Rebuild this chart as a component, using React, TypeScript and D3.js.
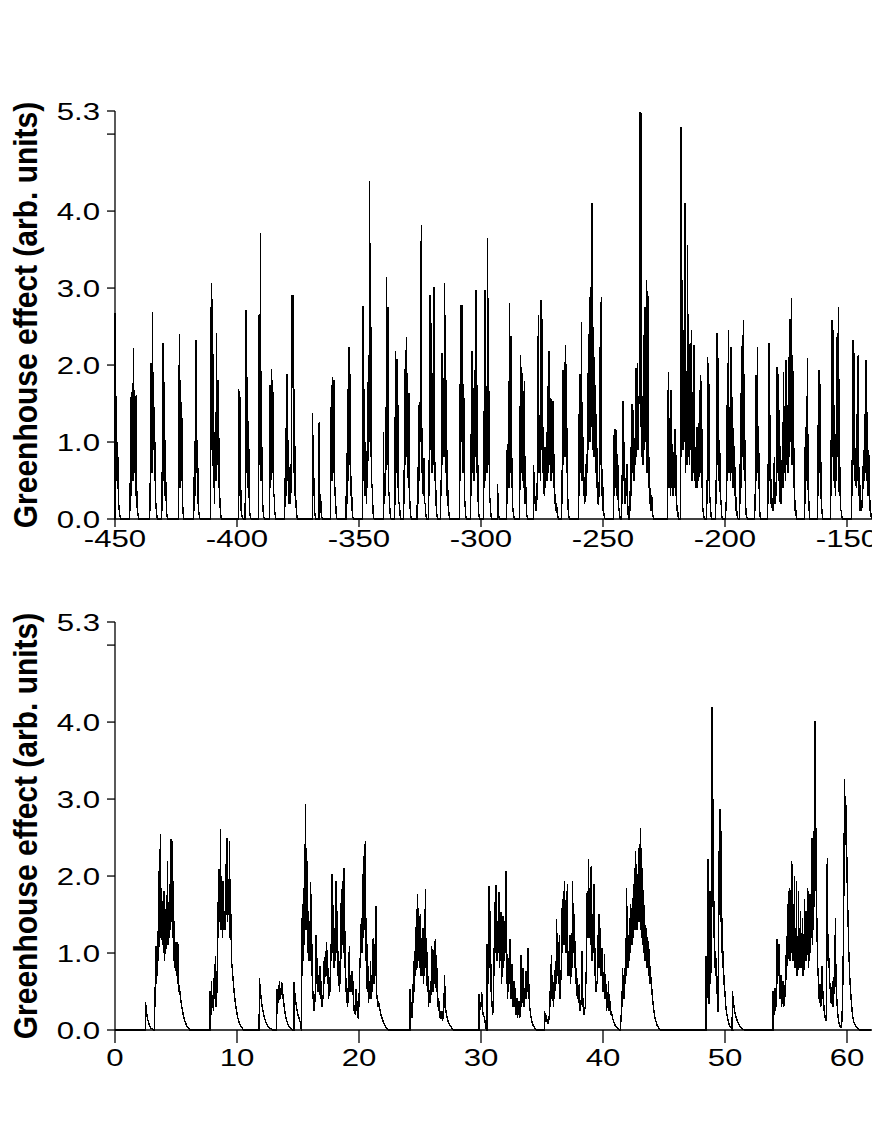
import React from "react";
import * as d3 from "d3";

// ---------- data ----------
// Top panel: bursts sampled at a fixed step; each entry = [start time, values]
const topStep = 0.27;
const topBursts: [number, number[]][] = [
  [-450.0, [2.67, 0.3, 1.6, 0.5, 1.0, 0.3, 0.15, 0.07, 0.03]],
  [-444.0, [0.47, 0.1, 1.58, 0.3, 1.77, 0.5, 2.22, 0.6, 1.52, 0.3, 1.61, 0.2, 0.1, 0.04]],
  [-435.7, [0.47, 0.1, 2.03, 0.6, 2.69, 0.9, 1.45, 0.5, 1.0, 0.2, 0.08, 0.02]],
  [-430.8, [0.61, 0.1, 2.28, 0.5, 1.78, 0.3, 0.48, 0.1, 0.03]],
  [-423.9, [0.3, 2.4, 0.4, 1.8, 0.5, 1.31, 0.2, 0.05]],
  [-417.8, [0.55, 0.1, 1.01, 0.3, 2.33, 0.6, 1.03, 0.2, 0.08, 0.02]],
  [-410.8, [0.5, 3.06, 0.9, 2.86, 0.4, 0.77, 0.2, 1.18, 0.5, 2.41, 0.7, 1.8, 0.4, 1.05, 0.2, 0.08, 0.02]],
  [-399.4, [1.69, 0.3, 1.66, 0.1, 0.38, 0.05, 0.02]],
  [-396.6, [0.5, 2.72, 0.6, 1.84, 0.4, 1.27, 0.2, 0.06, 0.02]],
  [-391.2, [0.5, 2.65, 0.7, 3.71, 0.5, 0.99, 0.3, 0.1, 0.03]],
  [-386.7, [0.3, 1.74, 0.4, 1.95, 0.6, 1.8, 0.3, 0.33, 0.1, 0.03]],
  [-380.5, [0.53, 0.15, 1.18, 0.3, 1.88, 0.5, 1.03, 0.2, 0.53, 0.2, 0.5, 2.91, 1.7, 2.91, 0.6, 1.69, 0.3, 0.25, 0.08, 0.02]],
  [-369.0, [1.38, 0.3, 0.53, 0.1, 0.03]],
  [-366.3, [1.26, 0.2, 0.33, 0.08, 0.02]],
  [-361.6, [0.3, 1.74, 0.5, 1.85, 0.6, 1.8, 0.3, 0.42, 0.1, 0.02]],
  [-355.2, [0.86, 0.2, 1.69, 0.5, 2.23, 0.7, 1.88, 0.3, 0.38, 0.1, 0.02]],
  [-348.6, [0.2, 2.77, 0.5, 1.69, 0.3, 1.0, 0.2, 0.88, 0.4, 2.1, 1.0, 4.39, 0.8, 2.5, 0.4, 0.46, 0.1, 0.02]],
  [-340.0, [1.13, 0.2, 0.6, 0.3, 0.8, 3.15, 0.7, 2.75, 0.3, 0.35, 0.08, 0.02]],
  [-335.3, [0.3, 2.18, 0.6, 2.08, 0.4, 1.48, 0.2, 0.2, 0.05]],
  [-331.7, [0.64, 0.2, 1.95, 0.7, 2.36, 0.8, 1.9, 0.4, 1.64, 0.3, 0.12, 0.03]],
  [-326.1, [0.57, 0.2, 1.48, 0.5, 1.52, 1.0, 3.82, 0.6, 1.03, 0.3, 0.79, 0.2, 0.2, 0.05]],
  [-321.4, [0.77, 0.3, 2.91, 0.9, 2.54, 0.6, 1.9, 0.7, 3.01, 0.5, 0.74, 0.2, 0.07, 0.02]],
  [-316.5, [0.51, 0.3, 2.15, 0.7, 1.83, 0.8, 3.07, 0.6, 1.8, 0.3, 0.9, 0.2, 0.12, 0.02]],
  [-308.7, [1.76, 0.5, 2.78, 1.0, 2.78, 0.6, 1.76, 0.3, 0.2, 0.05]],
  [-304.2, [1.11, 0.3, 2.18, 0.6, 1.7, 0.5, 1.94, 0.8, 2.98, 0.6, 1.74, 0.3, 0.07, 0.02]],
  [-298.9, [1.4, 0.4, 2.98, 0.5, 1.2, 0.6, 3.65, 0.7, 1.66, 0.3, 0.2, 0.05]],
  [-293.2, [0.46, 0.1, 0.03]],
  [-289.4, [0.9, 0.2, 0.98, 0.4, 2.81, 0.6, 2.38, 0.4, 0.79, 0.15, 0.05, 0.02]],
  [-284.1, [0.3, 2.13, 0.6, 1.98, 0.5, 1.66, 0.4, 1.79, 0.2, 0.46, 0.1, 0.03]],
  [-278.4, [0.7, 0.2, 0.3, 0.1, 0.12, 0.3, 0.8, 2.65, 0.6, 1.35, 0.5, 2.85, 0.9, 2.6, 0.6, 1.2, 0.3, 0.94, 0.4, 0.81, 0.5, 1.73, 0.6, 2.18, 0.7, 1.57, 0.5, 1.56, 0.6, 1.53, 0.4, 0.85, 0.2, 0.33, 0.1, 0.16, 0.05, 0.02]],
  [-266.9, [0.64, 0.2, 1.94, 0.7, 2.04, 0.8, 2.26, 0.6, 1.18, 0.3, 0.07, 0.02]],
  [-259.9, [1.37, 0.3, 1.88, 0.6, 2.56, 0.5, 1.09, 0.3, 0.46, 0.2, 0.72, 0.3, 0.85, 0.6, 1.89, 0.9, 2.89, 1.0, 3.02, 1.2, 4.1, 0.9, 2.5, 0.8, 2.11, 0.6, 1.37, 0.4, 0.92, 0.2, 0.18, 0.5, 2.24, 0.7, 2.89, 0.3, 0.61, 0.1, 0.07, 0.02]],
  [-245.6, [1.09, 0.3, 1.17, 0.4, 1.16, 0.3, 0.85, 0.1, 0.14, 0.04]],
  [-242.3, [0.57, 0.2, 1.53, 0.5, 1.0, 0.2, 0.29, 0.4, 0.72, 0.2]],
  [-239.2, [0.18, 0.1, 0.94, 0.3, 1.49, 0.6, 1.41, 0.5, 1.05, 0.7, 1.96, 0.8, 2.02, 0.9, 1.6, 1.5, 5.29, 1.2, 5.27, 0.8, 1.6, 0.7, 2.39, 0.9, 2.75, 1.0, 3.1, 0.6, 2.96, 0.4, 0.81, 0.2, 0.4, 0.1, 0.31, 0.08, 0.03]],
  [-223.5, [0.3, 1.91, 0.4, 1.31, 0.3, 1.68, 0.4, 0.98, 0.3, 0.87, 0.4, 1.17, 0.3, 0.83, 0.1, 0.14, 0.03]],
  [-218.3, [0.2, 5.09, 0.8, 3.1, 0.9, 2.46, 1.0, 4.1, 0.6, 1.0, 0.7, 3.56, 0.8, 1.33, 0.7, 2.28, 0.9, 2.46, 0.5, 0.83, 0.6, 2.26, 0.5, 0.94, 0.4, 1.2, 0.4, 0.92, 0.5, 1.68, 0.6, 1.87, 0.4, 1.17, 0.15, 0.07, 0.02]],
  [-207.6, [0.51, 0.2, 2.11, 0.5, 1.76, 0.3, 0.16, 0.04]],
  [-203.8, [0.51, 0.2, 2.41, 0.7, 2.09, 0.5, 1.03, 0.2, 0.25, 0.05]],
  [-199.7, [0.22, 0.1, 1.48, 0.5, 2.46, 0.6, 1.46, 0.5, 2.24, 0.6, 1.59, 0.4, 1.18, 0.3, 0.68, 0.1, 0.29, 0.06, 0.02]],
  [-194.0, [0.72, 0.2, 1.64, 0.4, 2.39, 0.8, 2.59, 0.5, 1.03, 0.2, 0.05, 0.02]],
  [-187.8, [0.33, 0.1, 1.87, 0.5, 2.24, 0.6, 0.98, 0.2, 0.03]],
  [-182.5, [0.72, 0.2, 2.28, 0.5, 1.35, 0.2, 0.33, 0.1, 0.18, 0.1, 0.81, 0.2, 0.2, 0.5, 1.98, 0.6, 1.89, 0.5, 1.41, 0.2, 0.46, 0.2, 0.77, 0.4, 1.91, 0.6, 1.47, 0.5, 2.07, 0.7, 1.48, 0.6, 2.11, 0.8, 2.6, 1.0, 2.87, 0.7, 2.13, 0.4, 0.92, 0.1, 0.25, 0.05]],
  [-167.3, [0.94, 0.2, 1.2, 0.5, 2.09, 0.4, 0.25, 0.05]],
  [-162.0, [1.22, 0.3, 1.94, 0.6, 1.76, 0.3, 0.16, 0.04]],
  [-156.7, [1.03, 0.3, 2.59, 0.8, 2.46, 0.5, 1.48, 0.3, 0.72, 0.5, 2.41, 0.8, 2.75, 0.3, 0.68, 0.1, 0.12, 0.03]],
  [-148.1, [0.77, 0.3, 2.32, 0.7, 2.16, 0.5, 0.92, 0.4, 1.37, 0.5, 2.13, 0.3, 0.68, 0.1, 0.25, 0.1, 0.2, 0.4, 0.9, 0.5, 1.37, 0.6, 2.07, 0.5, 1.39, 0.3, 0.9, 0.1, 0.25, 0.08]],
];

// Bottom panel: each entry = [start time, sample step, values]
const bottomBursts: [number, number, number[]][] = [
  [2.5, 0.07, [0.36, 0.25, 0.17, 0.12, 0.08, 0.05, 0.03, 0.02, 0.01]],
  [3.25, 0.048, [0.56, 0.3, 1.09, 0.6, 0.9, 0.7, 1.29, 0.9, 2.35, 1.3, 2.54, 1.2, 1.85, 1.1, 1.55, 1.0, 1.81, 0.9, 1.16, 1.0, 1.75, 1.2, 2.2, 1.1, 1.53, 1.2, 1.89, 1.3, 2.48, 1.4, 2.46, 1.2, 1.93, 0.9, 1.42, 0.8, 1.07, 0.7, 1.14, 0.6, 1.12, 0.5, 0.58, 0.5, 0.43, 0.37, 0.32, 0.27, 0.23, 0.19, 0.16, 0.13, 0.11, 0.09, 0.07, 0.05, 0.04, 0.03, 0.02, 0.01]],
  [7.8, 0.053, [0.5, 0.2, 0.64, 0.3, 0.38, 0.25, 0.68, 0.4, 0.96, 0.3, 0.34, 0.8, 1.66, 1.2, 2.09, 1.4, 2.61, 1.3, 1.59, 1.2, 1.94, 1.3, 1.46, 1.3, 2.15, 1.5, 2.5, 1.4, 1.94, 1.5, 2.46, 1.2, 1.51, 0.9, 0.82, 0.7, 0.6, 0.5, 0.42, 0.35, 0.29, 0.24, 0.19, 0.15, 0.12, 0.09, 0.07, 0.05, 0.04, 0.03, 0.02, 0.01]],
  [11.83, 0.06, [0.68, 0.55, 0.45, 0.37, 0.3, 0.25, 0.2, 0.16, 0.13, 0.1, 0.08, 0.06, 0.05, 0.04, 0.03, 0.02, 0.015, 0.01]],
  [13.27, 0.05, [0.53, 0.3, 0.45, 0.35, 0.64, 0.4, 0.55, 0.45, 0.62, 0.4, 0.47, 0.38, 0.3, 0.24, 0.19, 0.15, 0.12, 0.1, 0.08, 0.06, 0.05, 0.04, 0.03, 0.02, 0.01]],
  [14.67, 0.06, [0.62, 0.5, 0.4, 0.33, 0.27, 0.22, 0.18, 0.15, 0.12, 0.1]],
  [15.28, 0.0545, [1.46, 0.7, 1.64, 0.9, 1.85, 1.1, 2.93, 1.3, 2.37, 1.0, 1.55, 0.9, 1.42, 0.9, 1.92, 0.7, 1.12, 0.4, 0.51, 0.25, 0.34, 0.5, 1.24, 0.6, 0.94, 0.5, 0.72, 0.45, 0.83, 0.4, 0.64, 0.3, 0.46, 0.4, 0.9, 0.6, 1.03, 0.7, 1.14, 0.6, 0.81, 0.4, 0.64, 0.5, 1.12, 0.9, 2.03, 1.0, 1.62, 0.8, 1.33, 0.9, 1.94, 1.0, 1.55, 0.7, 1.03, 0.5, 0.72, 0.6, 1.83, 1.1, 1.94, 1.0, 2.11, 0.8, 1.29, 0.5, 0.64, 0.3, 0.46, 0.35, 1.09, 0.5, 0.72, 0.5, 0.77, 0.45, 0.64, 0.25, 0.29, 0.2, 0.53, 0.25, 0.38, 0.15, 0.2, 0.5, 0.94, 0.8, 1.42, 1.0, 2.03, 1.2, 2.26, 1.3, 2.46, 0.9, 1.46, 0.5, 0.83, 0.35, 0.55, 0.4, 0.9, 0.4, 0.64, 0.5, 1.2, 0.6, 1.12, 0.7, 1.61, 0.4, 0.46, 0.3, 0.38, 0.32, 0.27, 0.23, 0.19, 0.16, 0.13, 0.11, 0.09, 0.07, 0.05, 0.04, 0.03, 0.02, 0.01]],
  [24.18, 0.0525, [0.53, 0.15, 0.25, 0.15, 0.6, 0.35, 0.9, 0.5, 1.03, 0.7, 1.57, 0.8, 1.77, 0.9, 1.44, 0.8, 1.51, 0.7, 1.2, 0.7, 1.33, 0.6, 0.99, 0.7, 1.83, 0.8, 1.2, 0.5, 0.7, 0.3, 0.46, 0.35, 0.64, 0.45, 1.09, 0.5, 0.72, 0.5, 1.16, 0.6, 1.18, 0.5, 0.81, 0.3, 0.42, 0.25, 0.38, 0.15, 0.2, 0.15, 0.25, 0.12, 0.2, 0.3, 0.72, 0.3, 0.25, 0.2, 0.16, 0.13, 0.1, 0.08, 0.06, 0.05, 0.04, 0.03, 0.02, 0.01]],
  [29.84, 0.055, [0.47, 0.25, 0.36, 0.3, 0.49, 0.3, 0.2, 0.18, 0.16, 0.1, 0.05]],
  [30.5, 0.041, [1.12, 0.5, 0.99, 0.6, 1.87, 0.8, 1.55, 0.5, 0.86, 0.3, 0.38, 0.2, 0.25, 0.5, 1.07, 0.7, 1.66, 1.0, 1.89, 0.9, 1.37, 0.9, 1.42, 1.0, 1.79, 0.8, 1.2, 0.9, 1.53, 0.6, 0.81, 0.7, 1.48, 0.8, 1.33, 0.9, 1.42, 1.0, 2.07, 0.6, 0.99, 0.4, 0.64, 0.5, 0.94, 0.6, 1.18, 0.4, 0.64, 0.4, 0.86, 0.3, 0.38, 0.3, 0.64, 0.3, 0.55, 0.2, 0.29, 0.2, 0.42, 0.15, 0.25, 0.2, 0.38, 0.15, 0.2, 0.4, 0.97, 0.3, 0.46, 0.35, 0.81, 0.3, 0.38, 0.3, 0.55, 0.4, 0.77, 0.4, 0.64, 0.5, 1.07, 0.4, 0.6, 0.3, 0.25, 0.2, 0.16, 0.13, 0.1, 0.08, 0.06, 0.05, 0.04, 0.03, 0.02, 0.015, 0.01]],
  [35.22, 0.0545, [0.25, 0.1, 0.2, 0.1, 0.12, 0.08, 0.12, 0.2, 0.51, 0.3, 0.97, 0.4, 0.72, 0.3, 0.46, 0.4, 0.86, 0.6, 1.44, 0.7, 0.99, 0.6, 1.24, 0.4, 0.6, 0.8, 1.59, 1.0, 1.81, 1.1, 1.94, 1.0, 1.42, 1.0, 1.89, 0.7, 1.03, 0.7, 1.24, 0.6, 0.9, 0.8, 1.94, 1.0, 1.51, 0.8, 1.16, 0.6, 0.81, 0.4, 0.51, 0.35, 0.6, 0.25, 0.29, 0.4, 1.03, 0.3, 0.42, 0.2, 0.25, 0.3, 0.64, 0.9, 1.81, 1.2, 2.22, 1.2, 1.85, 1.1, 2.13, 0.9, 1.51, 1.0, 1.89, 0.7, 1.07, 0.5, 0.64, 0.6, 1.24, 0.8, 1.51, 0.8, 1.33, 0.7, 1.07, 0.5, 0.72, 0.5, 0.99, 0.4, 0.6, 0.25, 0.34, 0.3, 0.64, 0.25, 0.38, 0.2, 0.25, 0.2, 0.16, 0.13, 0.1, 0.08, 0.06, 0.05, 0.04, 0.03, 0.02, 0.01]],
  [41.45, 0.041, [0.2, 0.1, 0.51, 0.3, 0.81, 0.4, 0.46, 0.4, 0.81, 0.6, 1.2, 0.7, 1.85, 0.8, 1.37, 0.8, 1.07, 0.9, 1.46, 1.0, 1.64, 1.1, 1.59, 1.1, 1.72, 1.2, 1.89, 1.3, 2.11, 1.3, 2.33, 1.4, 2.15, 1.3, 2.03, 1.4, 2.37, 1.5, 2.42, 1.4, 2.63, 1.3, 2.37, 1.2, 2.03, 1.1, 1.81, 1.0, 1.51, 0.9, 1.24, 0.9, 1.33, 0.8, 1.07, 0.8, 1.16, 0.7, 0.9, 0.6, 0.72, 0.6, 0.55, 0.46, 0.39, 0.33, 0.27, 0.22, 0.18, 0.15, 0.12, 0.1, 0.08, 0.06, 0.05, 0.04, 0.03, 0.02, 0.01]],
  [48.44, 0.041, [0.96, 0.5, 0.42, 1.0, 2.22, 0.4, 0.34, 0.8, 1.81, 0.6, 0.81, 1.5, 4.19, 1.6, 3.0, 1.2, 1.68, 0.8, 1.03, 0.7, 0.94, 0.5, 0.64, 0.3, 0.23, 1.2, 2.33, 1.5, 2.87, 1.4, 2.59, 1.0, 1.46, 0.8, 1.03, 0.6, 0.72, 0.45, 0.51, 0.35, 0.29, 0.24, 0.2, 0.16, 0.13, 0.1, 0.08, 0.06, 0.05, 0.04, 0.03, 0.02, 0.01]],
  [50.6, 0.06, [0.51, 0.4, 0.32, 0.26, 0.21, 0.17, 0.14, 0.11, 0.09, 0.07, 0.05, 0.04, 0.03, 0.02, 0.015, 0.01]],
  [53.93, 0.042, [0.51, 0.2, 0.25, 0.2, 0.55, 0.25, 0.34, 0.5, 1.18, 0.6, 0.81, 0.7, 1.12, 0.4, 0.51, 0.4, 0.72, 0.3, 0.42, 0.35, 0.64, 0.3, 0.34, 0.4, 0.6, 0.6, 1.03, 0.8, 1.29, 0.9, 1.81, 1.0, 1.85, 0.9, 1.38, 1.1, 2.2, 1.0, 2.16, 0.9, 1.64, 1.0, 2.0, 0.8, 1.29, 0.9, 1.94, 0.7, 0.77, 0.8, 1.81, 0.8, 1.07, 0.8, 1.55, 0.8, 0.94, 0.8, 1.46, 0.7, 0.81, 0.8, 1.7, 0.9, 1.07, 0.9, 1.55, 1.0, 1.85, 0.8, 0.94, 0.9, 1.77, 1.0, 1.38, 1.2, 2.5, 1.1, 1.42, 1.3, 2.59, 1.6, 4.02, 1.8, 2.63, 1.2, 1.46, 0.7, 0.81, 0.5, 0.42, 0.35, 0.6, 0.3, 0.34, 0.5, 0.83, 0.4, 0.51, 0.35, 0.25, 0.2, 0.16, 0.14, 0.12, 1.0, 2.24, 0.9, 1.25, 0.8, 0.94, 0.6, 0.51, 0.4, 0.34, 0.4, 0.64, 0.3, 0.34, 0.5, 0.81, 1.0, 1.46, 0.6, 0.51, 0.35, 0.25, 0.17, 0.12, 0.09, 0.07, 0.05, 0.04, 0.04, 0.04, 0.2, 0.42, 0.9, 1.38, 2.5, 3.26, 2.4, 3.02, 2.6, 2.33, 1.9, 1.59, 1.3, 1.03, 0.85, 0.68, 0.56, 0.46, 0.37, 0.29, 0.22, 0.16, 0.13, 0.1, 0.085, 0.07, 0.06, 0.05, 0.04, 0.03, 0.025, 0.02, 0.015, 0.01]],
];

const topXTicks = [-450, -400, -350, -300, -250, -200, -150];
const bottomXTicks = [0, 10, 20, 30, 40, 50, 60];
const yTicks = [0, 1, 2, 3, 4, 5, 5.3];
const yTickLabels = ["0.0", "1.0", "2.0", "3.0", "4.0", "", "5.3"];
const yLabel = "Greenhouse effect (arb. units)";

// ---------- helpers ----------
function burstsToPoints(bursts: [number, number, number[]][], x0: number, x1: number): [number, number][] {
  const pts: [number, number][] = [[x0, 0]];
  bursts.forEach(([start, step, vals]) => {
    pts.push([start - step * 0.2, 0]);
    vals.forEach((v, i) => pts.push([start + i * step, v]));
    pts.push([start + vals.length * step, 0]);
  });
  pts.push([x1, 0]);
  return pts;
}

const FONT = "'Liberation Sans', Arial, Helvetica, sans-serif";

type PanelProps = {
  bursts: [number, number, number[]][];
  xDomain: [number, number];
  xTicks: number[];
  yBase: number;
  yTop: number;
  xTickLen: number;
  xLabelBase: number;
};

function Panel({ bursts, xDomain, xTicks, yBase, yTop, xTickLen, xLabelBase }: PanelProps) {
  const x = d3.scaleLinear().domain(xDomain).range([115, 871.4]);
  const y = d3.scaleLinear().domain([0, 5.3]).range([yBase, yTop]);
  const pts = burstsToPoints(bursts, xDomain[0], xDomain[1]);
  const line = d3
    .line<[number, number]>()
    .x((d) => x(d[0]))
    .y((d) => y(d[1]));
  const axisX = x(xDomain[0]);
  const cy = (yBase + yTop) / 2;
  return (
    <g>
      <path d={line(pts) || ""} fill="none" stroke="#000" strokeWidth={1.4} shapeRendering="crispEdges" />
      {/* y axis */}
      <line x1={axisX} x2={axisX} y1={y(0)} y2={y(5.3)} stroke="#000" strokeWidth={1.3} />
      {yTicks.map((t, i) => (
        <g key={"y" + i}>
          <line x1={axisX - 8} x2={axisX} y1={y(t)} y2={y(t)} stroke="#000" strokeWidth={1.3} />
          {yTickLabels[i] && (
            <text
              transform={`translate(100,${y(t)}) scale(1.3,1)`}
              dy="0.36em"
              textAnchor="end"
              fontFamily={FONT}
              fontSize={24}
              fill="#000"
            >
              {yTickLabels[i]}
            </text>
          )}
        </g>
      ))}
      {/* x axis */}
      <line x1={axisX} x2={872} y1={y(0)} y2={y(0)} stroke="#000" strokeWidth={1.3} />
      {xTicks.map((t) => (
        <g key={"x" + t}>
          <line x1={x(t)} x2={x(t)} y1={y(0)} y2={y(0) + xTickLen} stroke="#000" strokeWidth={1.3} />
          <text
            transform={`translate(${x(t)},${xLabelBase}) scale(1.3,1)`}
            textAnchor="middle"
            fontFamily={FONT}
            fontSize={24}
            fill="#000"
          >
            {String(t)}
          </text>
        </g>
      ))}
      <text
        transform={`translate(37,${cy}) scale(1.1,1) rotate(-90)`}
        textAnchor="middle"
        fontFamily={FONT}
        fontWeight="bold"
        fontSize={30}
        fill="#000"
      >
        {yLabel}
      </text>
    </g>
  );
}

export default function App() {
  const topAsBursts: [number, number, number[]][] = topBursts.map(([s, v]) => [s, topStep, v]);
  return (
    <div style={{ position: "absolute", left: 0, top: 0 }}>
      <svg width={872} height={1128} style={{ display: "block", background: "#fff" }}>
        <rect width={872} height={1128} fill="#fff" />
        <Panel
          bursts={topAsBursts}
          xDomain={[-450, -140]}
          xTicks={topXTicks}
          yBase={519}
          yTop={111}
          xTickLen={8}
          xLabelBase={547}
        />
        <Panel
          bursts={bottomBursts}
          xDomain={[0, 62]}
          xTicks={bottomXTicks}
          yBase={1030}
          yTop={622}
          xTickLen={13}
          xLabelBase={1066}
        />
      </svg>
    </div>
  );
}
